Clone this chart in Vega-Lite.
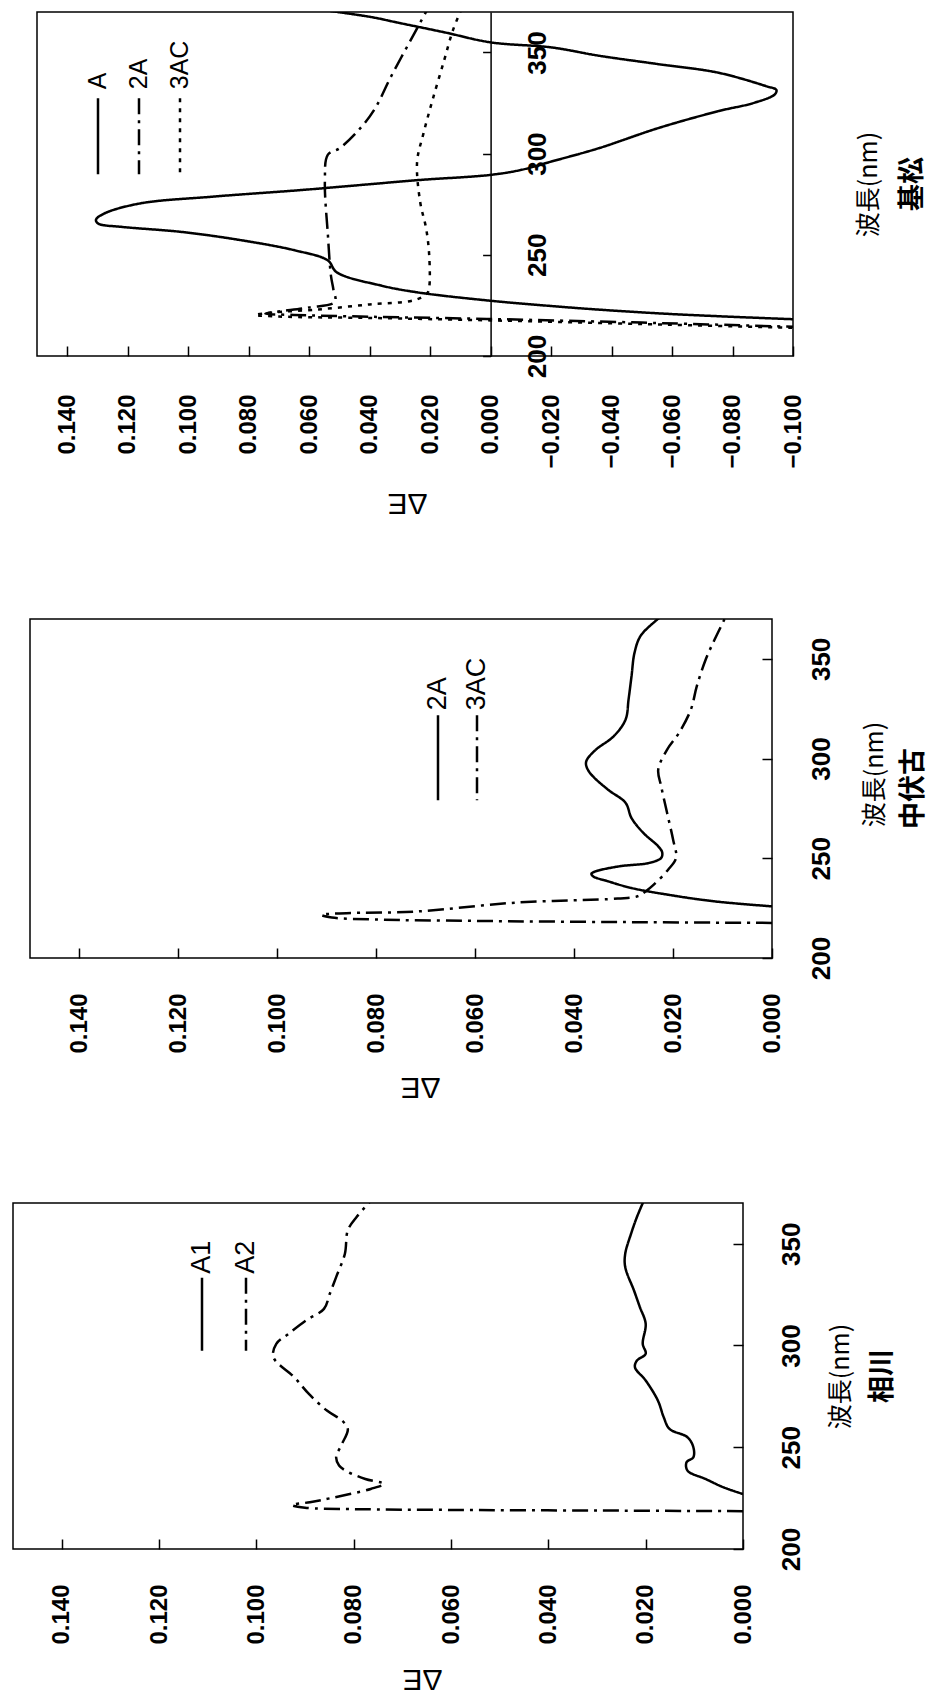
{
  "$schema": "https://vega.github.io/schema/vega-lite/v6.json",
  "background": "white",
  "padding": {"left": 12, "top": 11, "right": 1, "bottom": 8},
  "spacing": 100,
  "resolve": {"scale": {"strokeDash": "independent"}, "legend": {"strokeDash": "independent"}},
  "config": {
    "view": {"stroke": "black", "strokeWidth": 1.5},
    "font": "Liberation Sans",
    "axis": {"labelColor": "black", "titleColor": "black", "tickColor": "black", "grid": false, "labelFlush": false, "labelOverlap": false}
  },
  "datasets": {
    "kimatsu": [
      {"s": "A", "wl": 218.0, "dE": -0.103}, {"s": "A", "wl": 220.6, "dE": -0.0615}, {"s": "A", "wl": 223.0, "dE": -0.035}, {"s": "A", "wl": 225.3, "dE": -0.0151}, {"s": "A", "wl": 227.3, "dE": 0.0}, {"s": "A", "wl": 231.4, "dE": 0.024}, {"s": "A", "wl": 234.8, "dE": 0.0362}, {"s": "A", "wl": 241.4, "dE": 0.0509}, {"s": "A", "wl": 247.2, "dE": 0.0538}, {"s": "A", "wl": 252.2, "dE": 0.0647}, {"s": "A", "wl": 257.2, "dE": 0.0824}, {"s": "A", "wl": 261.3, "dE": 0.1021}, {"s": "A", "wl": 263.8, "dE": 0.1219}, {"s": "A", "wl": 265.4, "dE": 0.1297}, {"s": "A", "wl": 267.3, "dE": 0.1305}, {"s": "A", "wl": 270.4, "dE": 0.1278}, {"s": "A", "wl": 275.4, "dE": 0.1159}, {"s": "A", "wl": 278.7, "dE": 0.0923}, {"s": "A", "wl": 282.0, "dE": 0.0627}, {"s": "A", "wl": 284.5, "dE": 0.043}, {"s": "A", "wl": 287.0, "dE": 0.0233}, {"s": "A", "wl": 289.5, "dE": 0.0}, {"s": "A", "wl": 292.0, "dE": -0.0102}, {"s": "A", "wl": 296.1, "dE": -0.0201}, {"s": "A", "wl": 302.7, "dE": -0.0358}, {"s": "A", "wl": 312.7, "dE": -0.0556}, {"s": "A", "wl": 321.0, "dE": -0.0753}, {"s": "A", "wl": 325.1, "dE": -0.0871}, {"s": "A", "wl": 329.3, "dE": -0.094}, {"s": "A", "wl": 331.5, "dE": -0.0945}, {"s": "A", "wl": 333.4, "dE": -0.091}, {"s": "A", "wl": 340.0, "dE": -0.0753}, {"s": "A", "wl": 344.2, "dE": -0.0556}, {"s": "A", "wl": 348.4, "dE": -0.0358}, {"s": "A", "wl": 352.5, "dE": -0.0201}, {"s": "A", "wl": 355.0, "dE": 0.0}, {"s": "A", "wl": 360.0, "dE": 0.0154}, {"s": "A", "wl": 364.9, "dE": 0.0312}, {"s": "A", "wl": 367.4, "dE": 0.0391}, {"s": "A", "wl": 370.5, "dE": 0.053},
      {"s": "2A", "wl": 214.3, "dE": -0.103}, {"s": "2A", "wl": 216.5, "dE": -0.05}, {"s": "2A", "wl": 218.3, "dE": 0.0}, {"s": "2A", "wl": 219.4, "dE": 0.04}, {"s": "2A", "wl": 220.3, "dE": 0.065}, {"s": "2A", "wl": 220.9, "dE": 0.0745}, {"s": "2A", "wl": 222.0, "dE": 0.07}, {"s": "2A", "wl": 224.0, "dE": 0.06}, {"s": "2A", "wl": 226.7, "dE": 0.0515}, {"s": "2A", "wl": 233.0, "dE": 0.052}, {"s": "2A", "wl": 239.7, "dE": 0.0528}, {"s": "2A", "wl": 259.7, "dE": 0.0538}, {"s": "2A", "wl": 286.2, "dE": 0.0548}, {"s": "2A", "wl": 299.5, "dE": 0.0538}, {"s": "2A", "wl": 302.7, "dE": 0.0499}, {"s": "2A", "wl": 312.7, "dE": 0.043}, {"s": "2A", "wl": 322.6, "dE": 0.0381}, {"s": "2A", "wl": 337.6, "dE": 0.0331}, {"s": "2A", "wl": 359.2, "dE": 0.0253}, {"s": "2A", "wl": 370.5, "dE": 0.0212},
      {"s": "3AC", "wl": 213.8, "dE": -0.103}, {"s": "3AC", "wl": 215.8, "dE": -0.05}, {"s": "3AC", "wl": 217.6, "dE": 0.0}, {"s": "3AC", "wl": 218.8, "dE": 0.04}, {"s": "3AC", "wl": 219.5, "dE": 0.07}, {"s": "3AC", "wl": 220.3, "dE": 0.0778}, {"s": "3AC", "wl": 221.5, "dE": 0.072}, {"s": "3AC", "wl": 223.0, "dE": 0.057}, {"s": "3AC", "wl": 225.5, "dE": 0.04}, {"s": "3AC", "wl": 227.6, "dE": 0.0252}, {"s": "3AC", "wl": 231.0, "dE": 0.021}, {"s": "3AC", "wl": 234.0, "dE": 0.0203}, {"s": "3AC", "wl": 249.7, "dE": 0.0203}, {"s": "3AC", "wl": 262.9, "dE": 0.0213}, {"s": "3AC", "wl": 276.2, "dE": 0.0233}, {"s": "3AC", "wl": 296.1, "dE": 0.0243}, {"s": "3AC", "wl": 309.4, "dE": 0.0223}, {"s": "3AC", "wl": 326.0, "dE": 0.0193}, {"s": "3AC", "wl": 345.9, "dE": 0.0154}, {"s": "3AC", "wl": 360.8, "dE": 0.0125}, {"s": "3AC", "wl": 370.5, "dE": 0.0099}
    ],
    "nakafushiko": [
      {"s": "2A", "wl": 225.9, "dE": 0.0}, {"s": "2A", "wl": 228.4, "dE": 0.0116}, {"s": "2A", "wl": 231.8, "dE": 0.0212}, {"s": "2A", "wl": 235.1, "dE": 0.0284}, {"s": "2A", "wl": 238.5, "dE": 0.0332}, {"s": "2A", "wl": 241.0, "dE": 0.0362}, {"s": "2A", "wl": 242.3, "dE": 0.0365}, {"s": "2A", "wl": 243.5, "dE": 0.0356}, {"s": "2A", "wl": 246.0, "dE": 0.0308}, {"s": "2A", "wl": 247.7, "dE": 0.0248}, {"s": "2A", "wl": 250.2, "dE": 0.0224}, {"s": "2A", "wl": 253.0, "dE": 0.0222}, {"s": "2A", "wl": 256.0, "dE": 0.023}, {"s": "2A", "wl": 262.7, "dE": 0.026}, {"s": "2A", "wl": 270.2, "dE": 0.0284}, {"s": "2A", "wl": 277.8, "dE": 0.0296}, {"s": "2A", "wl": 284.5, "dE": 0.0332}, {"s": "2A", "wl": 292.8, "dE": 0.0368}, {"s": "2A", "wl": 297.0, "dE": 0.0376}, {"s": "2A", "wl": 299.5, "dE": 0.0374}, {"s": "2A", "wl": 304.5, "dE": 0.0356}, {"s": "2A", "wl": 311.2, "dE": 0.032}, {"s": "2A", "wl": 319.6, "dE": 0.0296}, {"s": "2A", "wl": 329.6, "dE": 0.029}, {"s": "2A", "wl": 341.3, "dE": 0.0284}, {"s": "2A", "wl": 353.0, "dE": 0.0278}, {"s": "2A", "wl": 361.4, "dE": 0.0266}, {"s": "2A", "wl": 368.9, "dE": 0.0236}, {"s": "2A", "wl": 370.5, "dE": 0.0228},
      {"s": "3AC", "wl": 217.6, "dE": 0.0}, {"s": "3AC", "wl": 218.0, "dE": 0.03}, {"s": "3AC", "wl": 218.6, "dE": 0.06}, {"s": "3AC", "wl": 219.3, "dE": 0.08}, {"s": "3AC", "wl": 220.3, "dE": 0.089}, {"s": "3AC", "wl": 221.6, "dE": 0.0911}, {"s": "3AC", "wl": 222.5, "dE": 0.086}, {"s": "3AC", "wl": 223.3, "dE": 0.072}, {"s": "3AC", "wl": 227.8, "dE": 0.0516}, {"s": "3AC", "wl": 229.8, "dE": 0.0312}, {"s": "3AC", "wl": 231.0, "dE": 0.0271}, {"s": "3AC", "wl": 233.5, "dE": 0.0255}, {"s": "3AC", "wl": 236.8, "dE": 0.0239}, {"s": "3AC", "wl": 244.3, "dE": 0.021}, {"s": "3AC", "wl": 250.2, "dE": 0.0194}, {"s": "3AC", "wl": 259.4, "dE": 0.02}, {"s": "3AC", "wl": 272.7, "dE": 0.0212}, {"s": "3AC", "wl": 286.1, "dE": 0.0224}, {"s": "3AC", "wl": 294.5, "dE": 0.023}, {"s": "3AC", "wl": 304.5, "dE": 0.0212}, {"s": "3AC", "wl": 312.9, "dE": 0.0188}, {"s": "3AC", "wl": 324.6, "dE": 0.0164}, {"s": "3AC", "wl": 336.3, "dE": 0.0152}, {"s": "3AC", "wl": 349.7, "dE": 0.0134}, {"s": "3AC", "wl": 359.7, "dE": 0.0116}, {"s": "3AC", "wl": 368.9, "dE": 0.0098}, {"s": "3AC", "wl": 370.5, "dE": 0.0095}
    ],
    "aikawa": [
      {"s": "A1", "wl": 227.0, "dE": 0.0}, {"s": "A1", "wl": 230.3, "dE": 0.004}, {"s": "A1", "wl": 234.4, "dE": 0.0077}, {"s": "A1", "wl": 238.5, "dE": 0.0114}, {"s": "A1", "wl": 242.6, "dE": 0.0116}, {"s": "A1", "wl": 245.1, "dE": 0.0102}, {"s": "A1", "wl": 250.0, "dE": 0.0102}, {"s": "A1", "wl": 254.9, "dE": 0.0114}, {"s": "A1", "wl": 259.0, "dE": 0.0151}, {"s": "A1", "wl": 264.8, "dE": 0.0163}, {"s": "A1", "wl": 273.0, "dE": 0.0175}, {"s": "A1", "wl": 282.8, "dE": 0.02}, {"s": "A1", "wl": 289.3, "dE": 0.0222}, {"s": "A1", "wl": 292.6, "dE": 0.0218}, {"s": "A1", "wl": 295.9, "dE": 0.02}, {"s": "A1", "wl": 300.8, "dE": 0.0206}, {"s": "A1", "wl": 310.7, "dE": 0.02}, {"s": "A1", "wl": 318.9, "dE": 0.0212}, {"s": "A1", "wl": 327.0, "dE": 0.0224}, {"s": "A1", "wl": 338.5, "dE": 0.0242}, {"s": "A1", "wl": 345.1, "dE": 0.0242}, {"s": "A1", "wl": 354.9, "dE": 0.023}, {"s": "A1", "wl": 363.1, "dE": 0.0218}, {"s": "A1", "wl": 370.5, "dE": 0.0205},
      {"s": "A2", "wl": 218.6, "dE": 0.0}, {"s": "A2", "wl": 218.9, "dE": 0.03}, {"s": "A2", "wl": 219.2, "dE": 0.06}, {"s": "A2", "wl": 219.6, "dE": 0.08}, {"s": "A2", "wl": 220.3, "dE": 0.09}, {"s": "A2", "wl": 221.6, "dE": 0.0927}, {"s": "A2", "wl": 223.0, "dE": 0.089}, {"s": "A2", "wl": 225.1, "dE": 0.0845}, {"s": "A2", "wl": 229.5, "dE": 0.0765}, {"s": "A2", "wl": 232.0, "dE": 0.0738}, {"s": "A2", "wl": 234.4, "dE": 0.0776}, {"s": "A2", "wl": 238.4, "dE": 0.0816}, {"s": "A2", "wl": 241.0, "dE": 0.083}, {"s": "A2", "wl": 245.1, "dE": 0.0836}, {"s": "A2", "wl": 251.6, "dE": 0.0824}, {"s": "A2", "wl": 259.0, "dE": 0.0812}, {"s": "A2", "wl": 263.1, "dE": 0.0824}, {"s": "A2", "wl": 268.0, "dE": 0.0855}, {"s": "A2", "wl": 276.2, "dE": 0.0892}, {"s": "A2", "wl": 284.4, "dE": 0.0922}, {"s": "A2", "wl": 294.3, "dE": 0.0965}, {"s": "A2", "wl": 300.8, "dE": 0.0959}, {"s": "A2", "wl": 305.7, "dE": 0.0934}, {"s": "A2", "wl": 312.3, "dE": 0.0898}, {"s": "A2", "wl": 318.0, "dE": 0.0861}, {"s": "A2", "wl": 325.4, "dE": 0.0849}, {"s": "A2", "wl": 333.6, "dE": 0.0836}, {"s": "A2", "wl": 345.1, "dE": 0.0818}, {"s": "A2", "wl": 356.6, "dE": 0.0812}, {"s": "A2", "wl": 363.1, "dE": 0.0794}, {"s": "A2", "wl": 370.5, "dE": 0.0767}
    ]
  },
  "vconcat": [
    {
      "spacing": 0,
      "hconcat": [
        {"width": 23, "height": 10, "data": {"values": []}, "mark": "point", "view": {"stroke": null}},
        {
          "width": 756, "height": 344,
          "data": {"name": "kimatsu"},
          "title": {"text": "基松", "orient": "right", "angle": 270, "anchor": "middle", "baseline": "top", "font": "Noto Sans CJK JP", "fontSize": 27, "fontWeight": "bold", "color": "black", "offset": -9},
          "mark": {"type": "line", "clip": true, "color": "black", "strokeWidth": 2.5, "interpolate": "catmull-rom"},
          "encoding": {
            "x": {"field": "dE", "type": "quantitative",
              "scale": {"domain": [-0.1, 0.15], "reverse": true, "nice": false, "zero": false},
              "axis": {"orient": "bottom", "values": [0.14, 0.12, 0.1, 0.08, 0.06, 0.04, 0.02, 0, -0.02, -0.04, -0.06, -0.08, -0.1], "format": ".3f",
                "labelAngle": 270, "labelAlign": "right", "labelBaseline": "middle", "labelFont": "Liberation Sans", "labelFontSize": 24, "labelFontWeight": "bold", "labelPadding": 48,
                "tickSize": -10, "tickWidth": 1.5, "domain": false,
                "title": "ΔE", "titleAngle": 180, "titleBaseline": "alphabetic", "titleAlign": "center", "titleFont": "Liberation Sans", "titleFontSize": 30, "titleFontWeight": "normal", "titleX": 370, "titleY": 137}},
            "y": {"field": "wl", "type": "quantitative",
              "scale": {"domain": [200, 370], "nice": false, "zero": false},
              "axis": {"orient": "right", "offset": -302.4, "values": [200, 250, 300, 350], "labelAngle": 270, "labelAlign": "center", "labelBaseline": "top", "labelFont": "Liberation Sans", "labelFontSize": 26, "labelFontWeight": "bold", "labelPadding": 42,
                "tickSize": -8, "tickWidth": 1.5, "domain": true, "domainColor": "black", "domainWidth": 1.5,
                "title": "波長(nm)", "titleAngle": 270, "titleAlign": "center", "titleBaseline": "middle", "titleFont": "Noto Sans CJK JP", "titleFontSize": 25, "titleFontWeight": "normal", "titleX": 378, "titleY": 172}},
            "order": {"field": "wl", "type": "quantitative"},
            "strokeDash": {"field": "s", "type": "nominal",
              "scale": {"domain": ["A", "2A", "3AC"], "range": [[1, 0], [16, 6, 3, 6], [4, 6]]},
              "legend": {"orient": "none", "legendX": 72.5, "legendY": 84.5, "direction": "horizontal", "title": null, "padding": 0,
                "symbolType": "M0,-1L0,1", "symbolSize": 5776, "symbolStrokeWidth": 2.5, "symbolStrokeColor": "black", "symbolOffset": -27,
                "labelFont": "Liberation Sans", "labelFontSize": 25, "labelColor": "black", "labelOffset": -39.5, "columnPadding": 15,
                "encode": {"labels": {"update": {"angle": {"value": -90}, "align": {"value": "left"}, "baseline": {"value": "middle"}, "y": {"value": -7.5}}}}}}
          }
        }
      ]
    },
    {
      "spacing": 0,
      "hconcat": [
        {"width": 15.5, "height": 10, "data": {"values": []}, "mark": "point", "view": {"stroke": null}},
        {
          "width": 742, "height": 339,
          "data": {"name": "nakafushiko"},
          "title": {"text": "中伏古", "orient": "right", "angle": 270, "anchor": "middle", "baseline": "top", "font": "Noto Sans CJK JP", "fontSize": 27, "fontWeight": "bold", "color": "black", "offset": -13},
          "mark": {"type": "line", "clip": true, "color": "black", "strokeWidth": 2.5, "interpolate": "catmull-rom"},
          "encoding": {
            "x": {"field": "dE", "type": "quantitative",
              "scale": {"domain": [0, 0.15], "reverse": true, "nice": false, "zero": false},
              "axis": {"orient": "bottom", "values": [0.14, 0.12, 0.1, 0.08, 0.06, 0.04, 0.02, 0], "format": ".3f",
                "labelAngle": 270, "labelAlign": "right", "labelBaseline": "middle", "labelFont": "Liberation Sans", "labelFontSize": 24, "labelFontWeight": "bold", "labelPadding": 45,
                "tickSize": -10, "tickWidth": 1.5, "domain": false,
                "title": "ΔE", "titleAngle": 180, "titleBaseline": "alphabetic", "titleAlign": "center", "titleFont": "Liberation Sans", "titleFontSize": 30, "titleFontWeight": "normal", "titleX": 390, "titleY": 119}},
            "y": {"field": "wl", "type": "quantitative",
              "scale": {"domain": [200, 370], "nice": false, "zero": false},
              "axis": {"orient": "right", "values": [200, 250, 300, 350], "labelAngle": 270, "labelAlign": "center", "labelBaseline": "top", "labelFont": "Liberation Sans", "labelFontSize": 26, "labelFontWeight": "bold", "labelPadding": 46,
                "tickSize": -10, "tickWidth": 1.5, "domain": false,
                "title": "波長(nm)", "titleAngle": 270, "titleAlign": "center", "titleBaseline": "middle", "titleFont": "Noto Sans CJK JP", "titleFontSize": 25, "titleFontWeight": "normal", "titleX": 102, "titleY": 155}},
            "order": {"field": "wl", "type": "quantitative"},
            "strokeDash": {"field": "s", "type": "nominal",
              "scale": {"domain": ["2A", "3AC"], "range": [[1, 0], [16, 6, 3, 6]]},
              "legend": {"orient": "none", "legendX": 411.5, "legendY": 94.5, "direction": "horizontal", "title": null, "padding": 0,
                "symbolType": "M0,-1L0,1", "symbolSize": 7225, "symbolStrokeWidth": 2.5, "symbolStrokeColor": "black", "symbolOffset": -30.5,
                "labelFont": "Liberation Sans", "labelFontSize": 27, "labelColor": "black", "labelOffset": -44, "columnPadding": 11,
                "encode": {"labels": {"update": {"angle": {"value": -90}, "align": {"value": "left"}, "baseline": {"value": "middle"}, "y": {"value": -3.5}}}}}}
          }
        }
      ]
    },
    {
      "width": 730, "height": 346,
      "data": {"name": "aikawa"},
      "title": {"text": "相川", "orient": "right", "angle": 270, "anchor": "middle", "baseline": "top", "font": "Noto Sans CJK JP", "fontSize": 27, "fontWeight": "bold", "color": "black", "offset": -10},
      "mark": {"type": "line", "clip": true, "color": "black", "strokeWidth": 2.5, "interpolate": "catmull-rom"},
      "encoding": {
        "x": {"field": "dE", "type": "quantitative",
          "scale": {"domain": [0, 0.15], "reverse": true, "nice": false, "zero": false},
          "axis": {"orient": "bottom", "values": [0.14, 0.12, 0.1, 0.08, 0.06, 0.04, 0.02, 0], "format": ".3f",
            "labelAngle": 270, "labelAlign": "right", "labelBaseline": "middle", "labelFont": "Liberation Sans", "labelFontSize": 24, "labelFontWeight": "bold", "labelPadding": 45,
            "tickSize": -10, "tickWidth": 1.5, "domain": false,
            "title": "ΔE", "titleAngle": 180, "titleBaseline": "alphabetic", "titleAlign": "center", "titleFont": "Liberation Sans", "titleFontSize": 30, "titleFontWeight": "normal", "titleX": 409, "titleY": 120}},
        "y": {"field": "wl", "type": "quantitative",
          "scale": {"domain": [200, 370], "nice": false, "zero": false},
          "axis": {"orient": "right", "values": [200, 250, 300, 350], "labelAngle": 270, "labelAlign": "center", "labelBaseline": "top", "labelFont": "Liberation Sans", "labelFontSize": 26, "labelFontWeight": "bold", "labelPadding": 45,
            "tickSize": -10, "tickWidth": 1.5, "domain": false,
            "title": "波長(nm)", "titleAngle": 270, "titleAlign": "center", "titleBaseline": "middle", "titleFont": "Noto Sans CJK JP", "titleFontSize": 25, "titleFontWeight": "normal", "titleX": 97, "titleY": 173}},
        "order": {"field": "wl", "type": "quantitative"},
        "strokeDash": {"field": "s", "type": "nominal",
          "scale": {"domain": ["A1", "A2"], "range": [[1, 0], [16, 6, 3, 6]]},
          "legend": {"orient": "none", "legendX": 175.5, "legendY": 73, "direction": "horizontal", "title": null, "padding": 0,
            "symbolType": "M0,-1L0,1", "symbolSize": 5329, "symbolStrokeWidth": 2.5, "symbolStrokeColor": "black", "symbolOffset": -24.5,
            "labelFont": "Liberation Sans", "labelFontSize": 27, "labelColor": "black", "labelOffset": -38, "columnPadding": 16,
            "encode": {"labels": {"update": {"angle": {"value": -90}, "align": {"value": "left"}, "baseline": {"value": "middle"}, "y": {"value": -2.5}}}}}}
      }
    }
  ]
}
